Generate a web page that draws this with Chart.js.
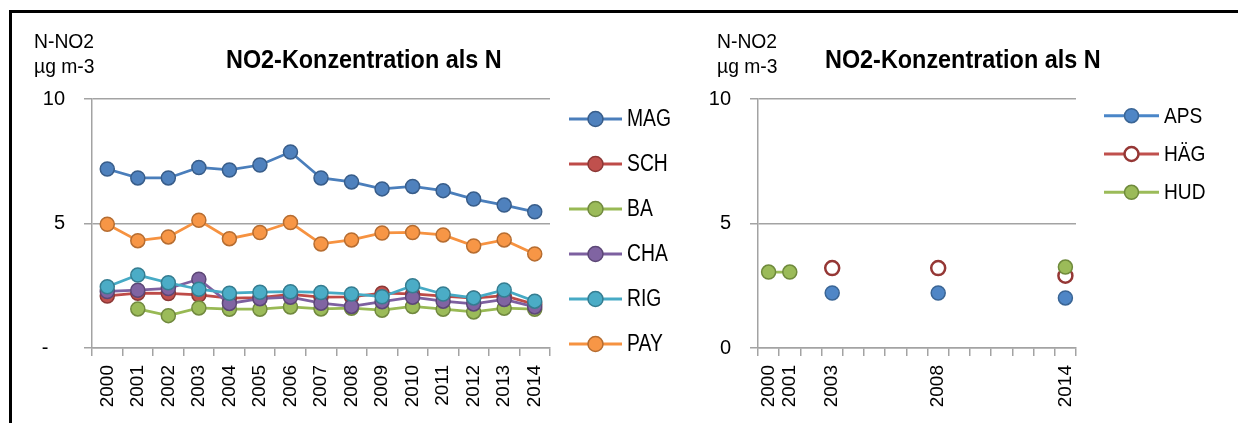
<!DOCTYPE html>
<html>
<head>
<meta charset="utf-8">
<script src="https://cdn.jsdelivr.net/npm/chart.js@4.4.1/dist/chart.umd.min.js"></script>
<style>
  html, body { margin: 0; padding: 0; background: #fff; }
  #page { position: relative; width: 1238px; height: 423px; overflow: hidden;
          font-family: "Liberation Sans Narrow", "Liberation Sans", Arial, sans-serif; }
  #frame { position: absolute; left: 9px; top: 10px; width: 1240px; height: 420px;
           border-top: 3px solid #000; border-left: 3px solid #000; }
  canvas { position: absolute; top: 0; }
  .unit { position: absolute; font-size: 21px; line-height: 25px; color: #000; white-space: nowrap;
          transform: scaleX(0.92); transform-origin: 0 0; }
  .title { position: absolute; font-size: 26px; line-height: 26px; font-weight: bold; color: #000; white-space: nowrap;
           transform: scaleX(0.9); transform-origin: 0 0; }
</style>
</head>
<body>
<div id="page">
  <div id="frame"></div>
  <canvas id="left" width="690" height="423" style="left:0"></canvas>
  <canvas id="right" width="548" height="423" style="left:690px"></canvas>
  <div class="unit" style="left:34px; top:28px">N-NO2<br>µg m-3</div>
  <div class="title" style="left:226px; top:46px">NO2-Konzentration als N</div>
  <div class="unit" style="left:717px; top:28px">N-NO2<br>µg m-3</div>
  <div class="title" style="left:825px; top:46px">NO2-Konzentration als N</div>
</div>
<script>
// annual means N-NO2, µg m-3
const years = ['2000', '2001', '2002', '2003', '2004', '2005', '2006', '2007',
               '2008', '2009', '2010', '2011', '2012', '2013', '2014'];
const mag = [7.19, 6.83, 6.83, 7.25, 7.15, 7.35, 7.87, 6.83, 6.67, 6.39, 6.49, 6.32, 5.98, 5.74, 5.47];
const sch = [2.09, 2.20, 2.19, 2.13, 2.00, 2.02, 2.15, 2.04, 2.05, 2.20, 2.17, 2.08, 2.00, 2.10, 1.75];
const ba  = [null, 1.57, 1.30, 1.61, 1.56, 1.56, 1.65, 1.57, 1.60, 1.52, 1.67, 1.56, 1.45, 1.60, 1.56];
const cha = [2.27, 2.32, 2.39, 2.76, 1.79, 1.98, 2.04, 1.80, 1.67, 1.86, 2.04, 1.88, 1.77, 1.95, 1.65];
const rig = [2.46, 2.93, 2.62, 2.36, 2.20, 2.24, 2.26, 2.23, 2.17, 2.06, 2.50, 2.17, 2.01, 2.33, 1.88];
const pay = [4.97, 4.31, 4.46, 5.13, 4.39, 4.64, 5.04, 4.18, 4.34, 4.62, 4.64, 4.54, 4.10, 4.34, 3.78];

// sparse stations: only measured years get a label
const sparseYears = ['2000', '2001', '', '2003', '', '', '', '', '2008', '', '', '', '', '', '2014'];
const aps = [null, null, null, 2.21, null, null, null, null, 2.21, null, null, null, null, null, 2.01];
const hag = [null, null, null, 3.21, null, null, null, null, 3.21, null, null, null, null, null, 2.90];
const hud = [3.05, 3.05, null, null, null, null, null, null, null, null, null, null, null, null, 3.25];

const yTicks = [0, 5, 10];

const FONT = '"Liberation Sans Narrow", "Liberation Sans", Arial, sans-serif';
const AXIS = '#a3a3a3';

// legend with a short line through the marker, like the office charts
const lineLegend = {
  id: 'lineLegend',
  afterDraw(chart, args, o) {
    const ctx = chart.ctx;
    chart.data.datasets.forEach((ds, i) => {
      const y = o.top + i * o.spacing;
      const cx = o.x + o.lineLength / 2;
      ctx.save();
      ctx.strokeStyle = ds.borderColor;
      ctx.lineWidth = o.lineWidth;
      ctx.beginPath();
      ctx.moveTo(o.x, y);
      ctx.lineTo(o.x + o.lineLength, y);
      ctx.stroke();
      ctx.beginPath();
      ctx.arc(cx, y, o.radius, 0, Math.PI * 2);
      ctx.fillStyle = ds.pointBackgroundColor;
      ctx.fill();
      ctx.lineWidth = ds.pointBorderWidth;
      ctx.strokeStyle = ds.pointBorderColor;
      ctx.stroke();
      // condensed label text
      ctx.translate(o.x + o.lineLength + o.gap, y + 1);
      ctx.scale(o.squeeze, 1);
      ctx.fillStyle = '#000';
      ctx.font = o.fontSize + 'px ' + FONT;
      ctx.textBaseline = 'middle';
      ctx.fillText(ds.label, 0, 0);
      ctx.restore();
    });
  }
};

function series(label, data, line, fill, border, order) {
  return {
    label, data,
    borderColor: line,
    borderWidth: 2.75,
    pointRadius: 7,
    pointHoverRadius: 7,
    pointBackgroundColor: fill,
    pointBorderColor: border,
    pointBorderWidth: 1.5,
    spanGaps: false,
    order,
  };
}

function scales(zeroLabel, yWidth) {
  return {
    x: {
      offset: true,
      grid: { drawOnChartArea: false, drawTicks: true, tickLength: 8, offset: true, color: AXIS, lineWidth: 1.5 },
      border: { color: AXIS, width: 1.5 },
      ticks: {
        autoSkip: false, maxRotation: 90, minRotation: 90, padding: 9,
        color: '#000', font: { family: FONT, size: 19 },
      },
      afterFit(s) { s.height = 75; },
    },
    y: {
      min: 0, max: 10,
      afterBuildTicks(s) { s.ticks = yTicks.map(v => ({ value: v })); },
      grid: { color: AXIS, lineWidth: 1.5, tickLength: 8 },
      border: { color: AXIS, width: 1.5 },
      ticks: {
        padding: 19, color: '#000', font: { family: FONT, size: 20 },
        callback: v => (v === 0 ? zeroLabel : v),
      },
      afterFit(s) { s.width = yWidth; },
    },
  };
}

new Chart(document.getElementById('left'), {
  type: 'line',
  data: {
    labels: years,
    datasets: [
      series('MAG', mag, '#4a7ebb', '#4f81bd', '#385d8a', 6),
      series('SCH', sch, '#be4b48', '#c0504d', '#8c3836', 5),
      series('BA', ba, '#98b954', '#9bbb59', '#71893f', 4),
      series('CHA', cha, '#7d60a0', '#8064a2', '#5c4776', 3),
      series('RIG', rig, '#46aac5', '#4bacc6', '#357d91', 2),
      series('PAY', pay, '#f69240', '#f79646', '#b66d31', 1),
    ],
  },
  options: {
    responsive: false,
    animation: false,
    layout: { padding: { left: 32, top: 99, right: 140, bottom: 0 } },
    scales: scales('-   ', 60),
    plugins: {
      legend: { display: false },
      tooltip: { enabled: false },
      lineLegend: { x: 569, top: 119, spacing: 45, lineLength: 53, gap: 5, radius: 7.5, lineWidth: 3, fontSize: 23, squeeze: 0.84 },
    },
  },
  plugins: [lineLegend],
});

const hagSet = series('HÄG', hag, '#c0504d', '#ffffff', '#953735', 2);
hagSet.pointBorderWidth = 2.5;

new Chart(document.getElementById('right'), {
  type: 'line',
  data: {
    labels: sparseYears,
    datasets: [
      series('APS', aps, '#4a86c8', '#4f86c6', '#3a6595', 3),
      hagSet,
      series('HUD', hud, '#9bbb59', '#9bbb59', '#6f8a3c', 1),
    ],
  },
  options: {
    responsive: false,
    animation: false,
    layout: { padding: { left: 8, top: 99, right: 162, bottom: 0 } },
    scales: scales('0', 60),
    plugins: {
      legend: { display: false },
      tooltip: { enabled: false },
      lineLegend: { x: 414, top: 115.7, spacing: 38.3, lineLength: 55, gap: 5, radius: 7, lineWidth: 3, fontSize: 22, squeeze: 0.87 },
    },
  },
  plugins: [lineLegend],
});
</script>
</body>
</html>
